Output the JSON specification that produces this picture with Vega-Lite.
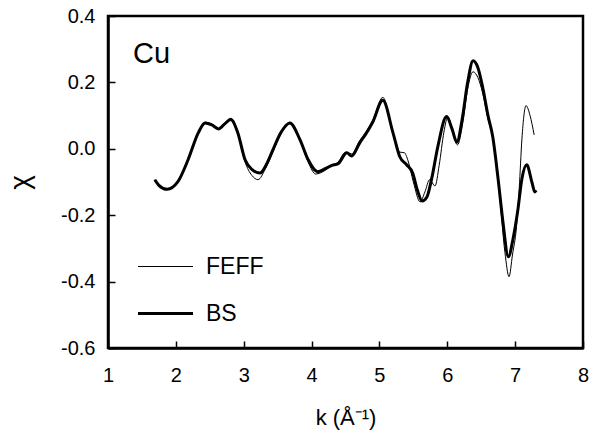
{
  "$schema": "https://vega.github.io/schema/vega-lite/v6.json",
  "width": 475,
  "height": 332,
  "autosize": {"type": "none"},
  "padding": {"left": 108, "top": 16, "right": 6, "bottom": 82},
  "background": "white",
  "config": {
    "font": "Liberation Sans",
    "view": {"stroke": "black", "strokeWidth": 2.5},
    "axis": {
      "domainColor": "black",
      "domainWidth": 2.5,
      "tickColor": "black",
      "tickWidth": 1.5,
      "tickSize": -7,
      "grid": false,
      "labelFont": "Liberation Sans",
      "labelFontSize": 20,
      "labelColor": "black",
      "titleFont": "Liberation Sans",
      "titleColor": "black",
      "titleFontWeight": "normal"
    }
  },
  "title": {
    "text": "Cu",
    "anchor": "start",
    "frame": "group",
    "orient": "top",
    "offset": 0,
    "dx": 25,
    "dy": 86,
    "baseline": "alphabetic",
    "font": "Liberation Sans",
    "fontSize": 29,
    "fontWeight": "normal",
    "color": "black"
  },
  "data": {
    "values": [
      {"series": "BS", "k": 1.69, "chi": -0.093},
      {"series": "BS", "k": 1.75, "chi": -0.11},
      {"series": "BS", "k": 1.87, "chi": -0.122},
      {"series": "BS", "k": 2.03, "chi": -0.099},
      {"series": "BS", "k": 2.18, "chi": -0.033},
      {"series": "BS", "k": 2.33, "chi": 0.048},
      {"series": "BS", "k": 2.43, "chi": 0.078},
      {"series": "BS", "k": 2.53, "chi": 0.072},
      {"series": "BS", "k": 2.63, "chi": 0.06},
      {"series": "BS", "k": 2.72, "chi": 0.075},
      {"series": "BS", "k": 2.81, "chi": 0.088},
      {"series": "BS", "k": 2.91, "chi": 0.05},
      {"series": "BS", "k": 3.02, "chi": -0.033},
      {"series": "BS", "k": 3.12, "chi": -0.062},
      {"series": "BS", "k": 3.24, "chi": -0.073},
      {"series": "BS", "k": 3.34, "chi": -0.045},
      {"series": "BS", "k": 3.43, "chi": -0.003},
      {"series": "BS", "k": 3.55, "chi": 0.05},
      {"series": "BS", "k": 3.68, "chi": 0.078},
      {"series": "BS", "k": 3.83, "chi": 0.027},
      {"series": "BS", "k": 3.95, "chi": -0.033},
      {"series": "BS", "k": 4.09, "chi": -0.069},
      {"series": "BS", "k": 4.2, "chi": -0.06},
      {"series": "BS", "k": 4.3, "chi": -0.05},
      {"series": "BS", "k": 4.39, "chi": -0.045},
      {"series": "BS", "k": 4.52, "chi": -0.012},
      {"series": "BS", "k": 4.59, "chi": -0.022},
      {"series": "BS", "k": 4.71, "chi": 0.018},
      {"series": "BS", "k": 4.8, "chi": 0.045},
      {"series": "BS", "k": 4.9, "chi": 0.08},
      {"series": "BS", "k": 5.05, "chi": 0.146},
      {"series": "BS", "k": 5.2, "chi": 0.048},
      {"series": "BS", "k": 5.3, "chi": -0.024},
      {"series": "BS", "k": 5.4, "chi": -0.048},
      {"series": "BS", "k": 5.49, "chi": -0.073},
      {"series": "BS", "k": 5.56, "chi": -0.125},
      {"series": "BS", "k": 5.63, "chi": -0.157},
      {"series": "BS", "k": 5.7, "chi": -0.145},
      {"series": "BS", "k": 5.77, "chi": -0.09},
      {"series": "BS", "k": 5.86, "chi": 0.006},
      {"series": "BS", "k": 5.99, "chi": 0.097},
      {"series": "BS", "k": 6.07, "chi": 0.06},
      {"series": "BS", "k": 6.14, "chi": 0.02},
      {"series": "BS", "k": 6.22, "chi": 0.09},
      {"series": "BS", "k": 6.3, "chi": 0.2},
      {"series": "BS", "k": 6.38, "chi": 0.265},
      {"series": "BS", "k": 6.45, "chi": 0.245},
      {"series": "BS", "k": 6.52, "chi": 0.187},
      {"series": "BS", "k": 6.6, "chi": 0.1},
      {"series": "BS", "k": 6.67, "chi": 0.036},
      {"series": "BS", "k": 6.75, "chi": -0.093},
      {"series": "BS", "k": 6.82, "chi": -0.22},
      {"series": "BS", "k": 6.9, "chi": -0.325},
      {"series": "BS", "k": 6.97, "chi": -0.27},
      {"series": "BS", "k": 7.04, "chi": -0.184},
      {"series": "BS", "k": 7.1, "chi": -0.09},
      {"series": "BS", "k": 7.17, "chi": -0.048},
      {"series": "BS", "k": 7.25, "chi": -0.103},
      {"series": "BS", "k": 7.29, "chi": -0.13},
      {"series": "BS", "k": 7.31, "chi": -0.125},
      {"series": "FEFF", "k": 1.69, "chi": -0.093},
      {"series": "FEFF", "k": 1.75, "chi": -0.11},
      {"series": "FEFF", "k": 1.87, "chi": -0.122},
      {"series": "FEFF", "k": 2.03, "chi": -0.099},
      {"series": "FEFF", "k": 2.18, "chi": -0.033},
      {"series": "FEFF", "k": 2.33, "chi": 0.048},
      {"series": "FEFF", "k": 2.43, "chi": 0.08},
      {"series": "FEFF", "k": 2.53, "chi": 0.075},
      {"series": "FEFF", "k": 2.63, "chi": 0.06},
      {"series": "FEFF", "k": 2.72, "chi": 0.078},
      {"series": "FEFF", "k": 2.81, "chi": 0.092},
      {"series": "FEFF", "k": 2.91, "chi": 0.05},
      {"series": "FEFF", "k": 3.02, "chi": -0.04},
      {"series": "FEFF", "k": 3.12, "chi": -0.08},
      {"series": "FEFF", "k": 3.21, "chi": -0.093},
      {"series": "FEFF", "k": 3.32, "chi": -0.06},
      {"series": "FEFF", "k": 3.43, "chi": -0.01},
      {"series": "FEFF", "k": 3.55, "chi": 0.045},
      {"series": "FEFF", "k": 3.68, "chi": 0.08},
      {"series": "FEFF", "k": 3.83, "chi": 0.025},
      {"series": "FEFF", "k": 3.95, "chi": -0.04},
      {"series": "FEFF", "k": 4.06, "chi": -0.076},
      {"series": "FEFF", "k": 4.2, "chi": -0.065},
      {"series": "FEFF", "k": 4.3, "chi": -0.05},
      {"series": "FEFF", "k": 4.39, "chi": -0.04},
      {"series": "FEFF", "k": 4.5, "chi": -0.01},
      {"series": "FEFF", "k": 4.59, "chi": -0.015},
      {"series": "FEFF", "k": 4.71, "chi": 0.025},
      {"series": "FEFF", "k": 4.8, "chi": 0.05},
      {"series": "FEFF", "k": 4.9, "chi": 0.085},
      {"series": "FEFF", "k": 5.05, "chi": 0.155},
      {"series": "FEFF", "k": 5.2, "chi": 0.05},
      {"series": "FEFF", "k": 5.3, "chi": -0.01},
      {"series": "FEFF", "k": 5.37, "chi": -0.012},
      {"series": "FEFF", "k": 5.42, "chi": -0.035},
      {"series": "FEFF", "k": 5.5, "chi": -0.1},
      {"series": "FEFF", "k": 5.6, "chi": -0.16},
      {"series": "FEFF", "k": 5.67, "chi": -0.13},
      {"series": "FEFF", "k": 5.74, "chi": -0.093},
      {"series": "FEFF", "k": 5.82, "chi": -0.112},
      {"series": "FEFF", "k": 5.88, "chi": -0.05},
      {"series": "FEFF", "k": 5.95, "chi": 0.05},
      {"series": "FEFF", "k": 6.01, "chi": 0.097},
      {"series": "FEFF", "k": 6.08, "chi": 0.05},
      {"series": "FEFF", "k": 6.15, "chi": 0.012},
      {"series": "FEFF", "k": 6.23, "chi": 0.08},
      {"series": "FEFF", "k": 6.3, "chi": 0.18},
      {"series": "FEFF", "k": 6.38, "chi": 0.232},
      {"series": "FEFF", "k": 6.45, "chi": 0.215},
      {"series": "FEFF", "k": 6.52, "chi": 0.169},
      {"series": "FEFF", "k": 6.6, "chi": 0.09},
      {"series": "FEFF", "k": 6.67, "chi": 0.036},
      {"series": "FEFF", "k": 6.75, "chi": -0.093},
      {"series": "FEFF", "k": 6.85, "chi": -0.313},
      {"series": "FEFF", "k": 6.91, "chi": -0.385},
      {"series": "FEFF", "k": 6.96, "chi": -0.32},
      {"series": "FEFF", "k": 7.02, "chi": -0.235},
      {"series": "FEFF", "k": 7.06, "chi": -0.12},
      {"series": "FEFF", "k": 7.1, "chi": 0.03},
      {"series": "FEFF", "k": 7.16, "chi": 0.13},
      {"series": "FEFF", "k": 7.22, "chi": 0.1},
      {"series": "FEFF", "k": 7.28, "chi": 0.042}
    ]
  },
  "mark": {"type": "line", "interpolate": "monotone", "color": "black", "clip": true},
  "encoding": {
    "x": {
      "field": "k",
      "type": "quantitative",
      "scale": {"domain": [1, 8], "nice": false, "zero": false},
      "axis": {
        "values": [1, 2, 3, 4, 5, 6, 7, 8],
        "format": "d",
        "title": "k (Å⁻¹)",
        "titleFontSize": 22,
        "titlePadding": 22,
        "labelPadding": 24,
        "labelFlush": false
      }
    },
    "y": {
      "field": "chi",
      "type": "quantitative",
      "scale": {"domain": [-0.6, 0.4], "nice": false, "zero": false},
      "axis": {
        "values": [-0.6, -0.4, -0.2, 0, 0.2, 0.4],
        "labelExpr": "datum.value < 0 ? '-' + format(-datum.value, '.1f') : format(datum.value, '.1f')",
        "title": "χ",
        "titleFontSize": 28,
        "titlePadding": 26,
        "labelPadding": 20,
        "labelFlush": false
      }
    },
    "detail": {"field": "series"},
    "strokeWidth": {
      "field": "series",
      "type": "ordinal",
      "sort": ["FEFF", "BS"],
      "scale": {"domain": ["FEFF", "BS"], "range": [1, 3]},
      "legend": {
        "title": null,
        "orient": "none",
        "legendX": 34,
        "legendY": 228,
        "padding": 0,
        "symbolType": "M-1.25,0H1.25",
        "symbolSize": 1936,
        "symbolStrokeColor": "black",
        "symbolFillColor": "transparent",
        "labelFont": "Liberation Sans",
        "labelFontSize": 23,
        "labelColor": "black",
        "labelOffset": 17,
        "rowPadding": 11
      }
    }
  }
}
